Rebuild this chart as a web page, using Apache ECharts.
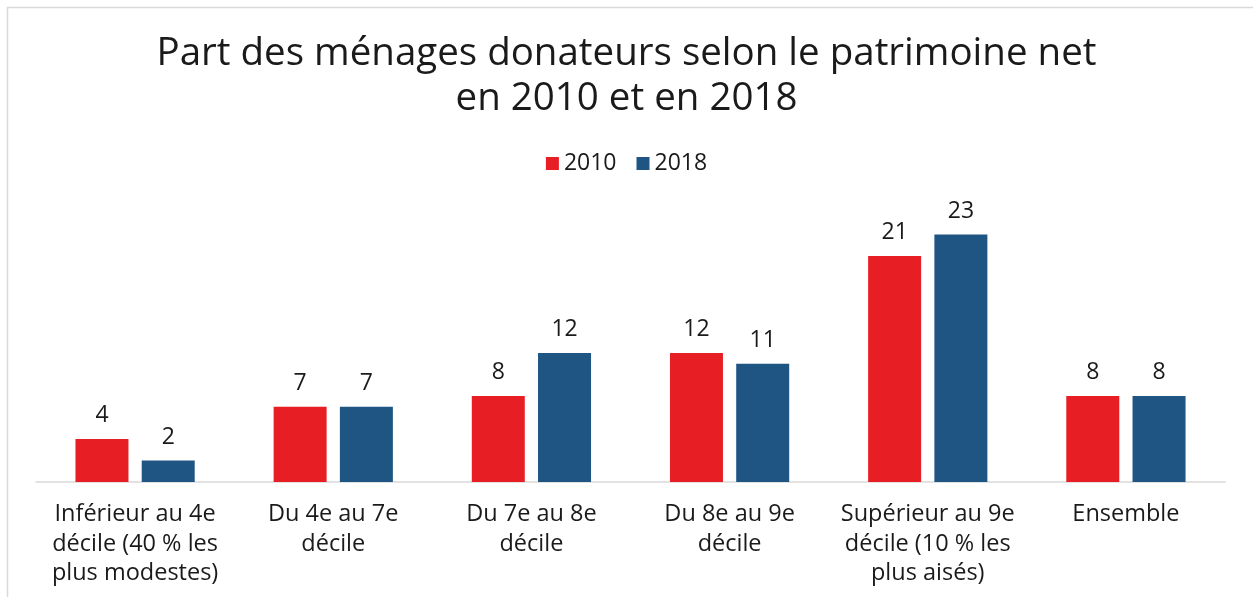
<!DOCTYPE html>
<html>
<head>
<meta charset="utf-8">
<script src="https://cdn.jsdelivr.net/npm/echarts@6/dist/echarts.min.js"></script>
<style>
html,body{margin:0;padding:0;background:#fff;}
#chart{width:1253px;height:597px;}
</style>
</head>
<body>
<div id="chart"></div>
<script>
var categories = [
	"Inférieur au 4e\ndécile (40 % les\nplus modestes)",
	"Du 4e au 7e\ndécile",
	"Du 7e au 8e\ndécile",
	"Du 8e au 9e\ndécile",
	"Supérieur au 9e\ndécile (10 % les\nplus aisés)",
	"Ensemble"
];
var values2010 = [4, 7, 8, 12, 21, 8];
var values2018 = [2, 7, 12, 11, 23, 8];
var seriesNames = ["2010", "2018"];

var fontName = "Open Sans";
var textColor = "#1a1a1a";

//initialisation du graphique
var chart = echarts.init(document.getElementById('chart'));

function barLabel(){
	return {
		show: true,
		position: 'top',
		distance: 12,
		fontFamily: fontName,
		fontSize: 23,
		color: textColor
	};
}

chart.setOption({
	animation: false,
	title: {
		text: "Part des ménages donateurs selon le patrimoine net\nen 2010 et en 2018",
		left: 'center',
		top: 27,
		textStyle: {
			fontFamily: fontName,
			fontWeight: 'normal',
			fontSize: 38.5,
			lineHeight: 45,
			color: textColor
		}
	},
	legend: {
		top: 147,
		left: 'center',
		itemWidth: 13,
		itemHeight: 13,
		itemGap: 20,
		icon: 'rect',
		textStyle: {fontFamily: fontName, fontSize: 23, color: textColor, padding: [0, 0, 0, 0]},
		data: seriesNames
	},
	graphic: [{
		type: 'rect',
		shape: {x: 7.5, y: 7.5, width: 1400, height: 800},
		style: {fill: 'none', stroke: '#d9d9d9', lineWidth: 1.5}
	}],
	grid: {left: 36, right: 28, top: 213, bottom: 115},
	xAxis: {
		type: 'category',
		data: categories,
		axisLine: {lineStyle: {color: '#d9d9d9', width: 1.5}},
		axisTick: {show: false},
		axisLabel: {
			interval: 0,
			margin: 18,
			fontFamily: fontName,
			fontSize: 23.5,
			lineHeight: 29.5,
			color: textColor
		}
	},
	yAxis: {
		type: 'value',
		min: 0,
		max: 25,
		show: false,
		splitLine: {show: false}
	},
	series: [{
		name: seriesNames[0],
		type: 'bar',
		data: values2010,
		barWidth: 53,
		barGap: '25%',
		itemStyle: {color: '#e81e25'},
		label: barLabel()
	}, {
		name: seriesNames[1],
		type: 'bar',
		data: values2018,
		barWidth: 53,
		itemStyle: {color: '#1f5583'},
		label: barLabel()
	}]
});
</script>
</body>
</html>
